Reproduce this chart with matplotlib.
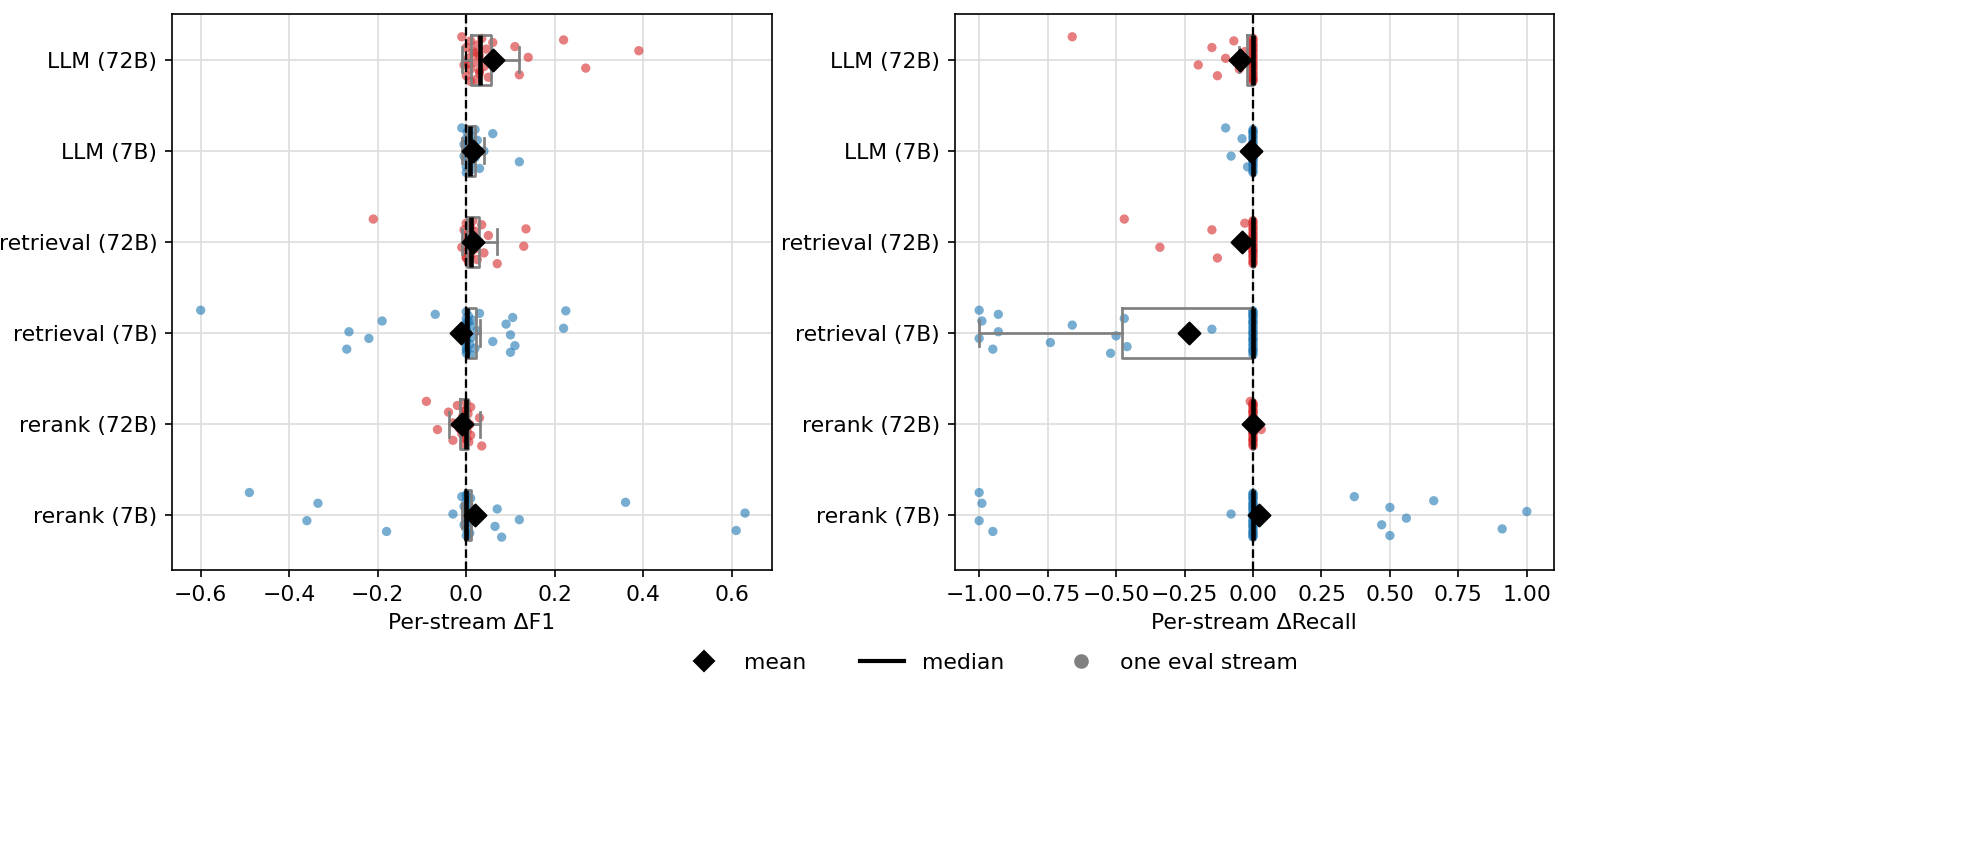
import numpy as np
import matplotlib
matplotlib.use("Agg")
import matplotlib.pyplot as plt
from matplotlib.lines import Line2D

labels = ["LLM (72B)", "LLM (7B)", "retrieval (72B)", "retrieval (7B)", "rerank (72B)", "rerank (7B)"]
is72 = [True, False, True, False, True, False]

f1_llm72 = [-0.01,-0.005,0,0,0.005,0.01,0.01,0.015,0.02,0.02,0.025,0.03,0.03,0.035,0.04,0.045,0.05,0.055,0.06,0.03,0.02,0.01,0.005,0.11,0.12,0.14,0.22,0.27,0.39]
f1_llm7 = [-0.01,-0.005,0,0,0,0.002,0.005,0.005,0.008,0.01,0.01,0.012,0.015,0.02,0.02,0.025,0.03,0.04,0.06,0.12,-0.005,0,0.005]
f1_ret72 = [-0.21,-0.01,-0.005,0,0,0,0.003,0.005,0.005,0.008,0.01,0.01,0.012,0.015,0.02,0.02,0.025,0.03,0.035,0.04,0.05,0.07,0.13,0.135,0.0,0.005]
f1_ret7 = [-0.6,-0.22,-0.19,-0.27,-0.265,-0.07,0,0,0,0,0,0,0,0,0,0,0.002,0.003,0.005,0.008,0.01,0.01,0.012,0.015,0.02,0.025,0.03,0.06,0.09,0.1,0.1,0.105,0.11,0.22,0.225,0,0.005,0,0]
f1_rer72 = [-0.09,-0.065,-0.04,-0.03,-0.03,-0.02,-0.01,-0.008,-0.005,-0.003,0,0,0,0,0.002,0.004,0.006,0.008,0.01,0.01,0.03,0.035,-0.015,-0.005,0]
f1_rer7 = [-0.49,-0.36,-0.335,-0.18,-0.03,-0.01,-0.005,0,0,0,0,0,0,0.002,0.004,0.006,0.008,0.01,0.01,0.065,0.07,0.08,0.12,0.36,0.61,0.63,0,0,-0.005,0.005]

rc_llm72 = [-0.66,-0.2,-0.15,-0.13,-0.1,-0.07,-0.05,-0.03] + [0.0]*22
rc_llm7 = [-0.1,-0.08,-0.04,-0.02] + [0.0]*24
rc_ret72 = [-0.47,-0.34,-0.15,-0.13,-0.05,-0.03] + [0.0]*22
rc_ret7 = [-1.0,-1.0,-0.99,-0.95,-0.93,-0.93,-0.74,-0.66,-0.52,-0.5,-0.47,-0.46,-0.15] + [0.0]*27
rc_rer72 = [-0.01,0.03] + [0.0]*26
rc_rer7 = [-1.0,-1.0,-0.99,-0.95,-0.08,0.37,0.47,0.5,0.5,0.56,0.66,0.91,1.0] + [0.0]*30

left = [f1_llm72, f1_llm7, f1_ret72, f1_ret7, f1_rer72, f1_rer7]
right = [rc_llm72, rc_llm7, rc_ret72, rc_ret7, rc_rer72, rc_rer7]

RED = "#d62728"
BLUE = "#1f77b4"

fig = plt.figure(figsize=(13.2, 5.76), dpi=150)
p0 = [172/1981, 1-570/864, 600/1981, (570-14)/864]
p1 = [955/1981, 1-570/864, 600/1981, (570-14)/864]
axes = [fig.add_axes(p0), fig.add_axes(p1)]

def draw(ax, groups):
    n = len(groups)
    pos = np.arange(n)
    for i, (vals, r) in enumerate(zip(groups, is72)):
        v = np.array(vals)
        jit = ((np.arange(len(v)) * 0.618034) % 1 - 0.5) * 0.5
        ax.scatter(v, pos[i] + jit, s=20, color=RED if r else BLUE, alpha=0.6, edgecolors="none", zorder=2)
    ax.boxplot(groups, positions=pos, vert=False, widths=0.55, showfliers=False,
               whis=1.5,
               boxprops=dict(color="gray", lw=1.3), whiskerprops=dict(color="gray", lw=1.3),
               capprops=dict(color="gray", lw=1.3), medianprops=dict(color="black", lw=2.2), zorder=3)
    for i, vals in enumerate(groups):
        ax.scatter([np.mean(vals)], [pos[i]], marker="D", s=55, color="black", zorder=5)
    ax.axvline(0, color="black", ls="--", lw=1.1, zorder=4)
    ax.set_yticks(pos)
    ax.set_yticklabels(labels, fontsize=10.5)
    ax.set_ylim(n - 0.4, -0.5)
    ax.grid(True, color="#dddddd", lw=0.8, zorder=0)
    ax.set_axisbelow(True)
    ax.tick_params(labelsize=10.5)

draw(axes[0], left)
axes[0].set_xlim(-0.665, 0.69)
axes[0].set_xticks([-0.6, -0.4, -0.2, 0.0, 0.2, 0.4, 0.6])
axes[0].set_xlabel("Per-stream ΔF1", fontsize=10.5)

draw(axes[1], right)
axes[1].set_xlim(-1.09, 1.1)
axes[1].set_xticks(np.arange(-1.0, 1.01, 0.25))
axes[1].set_xlabel("Per-stream ΔRecall", fontsize=10.5)

handles = [Line2D([], [], marker="D", color="black", ls="none", markersize=7, label="mean"),
           Line2D([], [], color="black", lw=2, label="median"),
           Line2D([], [], marker="o", color="gray", ls="none", markersize=6, label="one eval stream")]
fig.legend(handles=handles, loc="center", bbox_to_anchor=(0.5, 1-663/864), ncol=3, frameon=False, fontsize=10.5, columnspacing=2.5)

fig.savefig("out.png", dpi=150)
